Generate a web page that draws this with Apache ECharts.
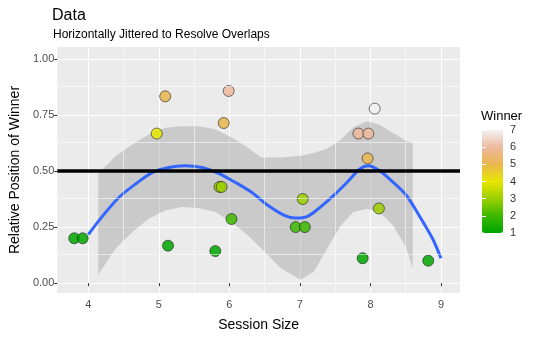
<!DOCTYPE html>
<html><head><meta charset="utf-8">
<script src="https://cdn.jsdelivr.net/npm/echarts@6/dist/echarts.min.js"></script>
<style>html,body{margin:0;padding:0;background:#fff}#c{width:540px;height:337px}</style>
</head><body><div id="c"></div>
<script>
// jittered session size, relative position of winner, winner
const sessionJit = [3.80, 3.92, 4.97, 5.09, 5.13, 5.80, 5.86, 5.89, 5.92, 5.99, 6.03, 6.94, 7.04, 7.07, 7.83, 7.89, 7.96, 7.97, 8.06, 8.12, 8.82];
const relPos     = [0.200, 0.200, 0.667, 0.833, 0.167, 0.143, 0.429, 0.429, 0.714, 0.857, 0.286, 0.250, 0.375, 0.250, 0.667, 0.111, 0.556, 0.667, 0.778, 0.333, 0.100];
const winner     = [1, 1, 4, 5, 1, 1, 3, 3, 5, 6, 2, 2, 3, 2, 6, 1, 5, 6, 7, 3, 1];

// loess smooth line
const smoothX = [4.00, 4.21, 4.44, 4.67, 4.91, 5.14, 5.37, 5.61, 5.84, 6.08, 6.31, 6.55, 6.78, 6.94, 7.11, 7.29, 7.48, 7.67, 7.85, 7.97, 8.13, 8.32, 8.51, 8.69, 8.88, 9.00];
const smoothY = [0.217, 0.302, 0.384, 0.442, 0.494, 0.516, 0.523, 0.516, 0.491, 0.450, 0.406, 0.346, 0.302, 0.290, 0.298, 0.339, 0.391, 0.450, 0.509, 0.523, 0.501, 0.450, 0.391, 0.302, 0.199, 0.111];

// confidence ribbon
const ribX    = [4.14, 4.39, 4.63, 4.86, 5.09, 5.33, 5.56, 5.80, 6.03, 6.26, 6.45, 6.73, 7.01, 7.20, 7.39, 7.58, 7.76, 7.95, 8.13, 8.32, 8.51, 8.60];
const ribHigh = [0.487, 0.568, 0.619, 0.664, 0.693, 0.700, 0.700, 0.686, 0.649, 0.605, 0.560, 0.560, 0.568, 0.580, 0.600, 0.640, 0.695, 0.722, 0.706, 0.670, 0.634, 0.627];
const ribLow  = [0.037, 0.155, 0.229, 0.288, 0.324, 0.339, 0.335, 0.317, 0.273, 0.214, 0.155, 0.066, 0.015, 0.052, 0.155, 0.258, 0.317, 0.332, 0.317, 0.258, 0.155, 0.066];

const refLine = 0.5;
const xTicks = [4, 5, 6, 7, 8, 9];
const yTicks = [0, 0.25, 0.5, 0.75, 1];
const minorX = [4.5, 5.5, 6.5, 7.5, 8.5];
const minorY = [0.125, 0.375, 0.625, 0.875];
const legendTicks = [1, 2, 3, 4, 5, 6, 7];
const winnerColors = ['#00A600', '#3DB800', '#9CCF00', '#E6E600', '#EAB64E', '#EEB99F', '#F2F2F2'];

const FONT = "'Liberation Sans', Arial, sans-serif";
const chart = echarts.init(document.getElementById('c'), null, {renderer: 'canvas'});

const near = (v, arr) => arr.some(t => Math.abs(t - v) < 1e-6);

chart.setOption({
  animation: false,
  textStyle: {fontFamily: FONT},
  title: [
    {text: 'Data', left: 52, top: 8, padding: 0, textStyle: {fontFamily: FONT, fontSize: 16, fontWeight: 'normal', color: '#000'}},
    {text: 'Horizontally Jittered to Resolve Overlaps', left: 53, top: 29, padding: 0, textStyle: {fontFamily: FONT, fontSize: 12, fontWeight: 'normal', color: '#000'}}
  ],
  grid: [
    {left: 54, right: 80, top: 47, bottom: 42, show: true, backgroundColor: '#EBEBEB', borderWidth: 0, containLabel: false},
    {left: 482, top: 130, width: 21, height: 103, show: false}
  ],
  xAxis: [
    {type: 'value', gridIndex: 0, min: 3.56, max: 9.27, minInterval: 1, maxInterval: 1,
     name: 'Session Size', nameLocation: 'middle', nameGap: 25,
     nameTextStyle: {fontFamily: FONT, fontSize: 14, color: '#000'},
     axisLine: {show: false},
     axisTick: {show: true, length: 3, customValues: xTicks, lineStyle: {color: '#333', width: 1}},
     axisLabel: {margin: 6, fontFamily: FONT, fontSize: 11, color: '#4D4D4D', customValues: xTicks,
       formatter: v => near(v, xTicks) ? String(Math.round(v)) : ''},
     splitLine: {show: true, lineStyle: {color: '#FFFFFF', width: 1.1}}},
    {type: 'value', gridIndex: 1, show: false, min: 0, max: 1}
  ],
  yAxis: [
    {type: 'value', gridIndex: 0, min: -0.044, max: 1.053, minInterval: 0.25, maxInterval: 0.25,
     name: 'Relative Position of Winner', nameLocation: 'middle', nameGap: 33, nameRotate: 90,
     nameTextStyle: {fontFamily: FONT, fontSize: 14, color: '#000'},
     axisLine: {show: false},
     axisTick: {show: true, length: 3, customValues: yTicks, lineStyle: {color: '#333', width: 1}},
     axisLabel: {margin: 3, fontFamily: FONT, fontSize: 11, color: '#4D4D4D', customValues: yTicks,
       formatter: v => near(v, yTicks) ? v.toFixed(2) : ''},
     splitLine: {show: true, lineStyle: {color: '#FFFFFF', width: 1.1}}},
    {type: 'value', gridIndex: 1, min: 1, max: 7, interval: 1, position: 'right', z: 10,
     axisLine: {show: false},
     axisTick: {show: true, inside: true, length: 4, lineStyle: {color: '#FFFFFF', width: 1}},
     axisLabel: {margin: 7, fontFamily: FONT, fontSize: 11, color: '#333',
       formatter: v => near(v, legendTicks) ? String(Math.round(v)) : ''},
     splitLine: {show: false}},
    {type: 'value', gridIndex: 1, min: 1, max: 7, interval: 1, position: 'left', z: 10,
     axisLine: {show: false},
     axisTick: {show: true, inside: true, length: 4, lineStyle: {color: '#FFFFFF', width: 1}},
     axisLabel: {show: false}, splitLine: {show: false}}
  ],
  visualMap: {
    type: 'continuous', min: 1, max: 7, dimension: 2, seriesIndex: 2,
    inRange: {color: winnerColors},
    left: 482, top: 130, itemWidth: 21, itemHeight: 103, padding: 0,
    calculable: false, hoverLink: false, text: null, showLabel: false
  },
  graphic: [
    {type: 'text', left: 481, top: 110, style: {text: 'Winner', font: '13px ' + FONT, fill: '#000'}}
  ],
  series: [
    {type: 'line', xAxisIndex: 0, yAxisIndex: 0, data: [], z: 1, silent: true,
     markLine: {silent: true, symbol: 'none', animation: false, label: {show: false},
       lineStyle: {color: '#FFFFFF', width: 0.55, type: 'solid'},
       data: minorX.map(v => ({xAxis: v})).concat(minorY.map(v => ({yAxis: v})))}},
    {type: 'custom', xAxisIndex: 0, yAxisIndex: 0, z: 2, silent: true,
     data: [[ribX[0], ribLow[0]]],
     renderItem: (params, api) => {
       const pts = [];
       for (let i = 0; i < ribX.length; i++) pts.push(api.coord([ribX[i], ribHigh[i]]));
       for (let i = ribX.length - 1; i >= 0; i--) pts.push(api.coord([ribX[i], ribLow[i]]));
       return {type: 'polygon', shape: {points: pts}, style: {fill: 'rgba(153,153,153,0.4)', stroke: null}};
     }},
    {type: 'scatter', xAxisIndex: 0, yAxisIndex: 0, z: 3, symbol: 'circle', symbolSize: 11,
     data: sessionJit.map((x, i) => [x, relPos[i], winner[i]]),
     itemStyle: {borderColor: '#1a1a1a', borderWidth: 0.7, opacity: 0.85}},
    {type: 'line', xAxisIndex: 0, yAxisIndex: 0, z: 4, smooth: 0.3, showSymbol: false, symbol: 'none',
     data: smoothX.map((x, i) => [x, smoothY[i]]),
     lineStyle: {color: '#3366FF', width: 3}},
    {type: 'line', xAxisIndex: 0, yAxisIndex: 0, data: [], z: 5, silent: true,
     markLine: {silent: true, symbol: 'none', animation: false, label: {show: false},
       lineStyle: {color: '#000000', width: 3.5, type: 'solid'},
       data: [{yAxis: refLine}]}}
  ]
});
</script></body></html>
